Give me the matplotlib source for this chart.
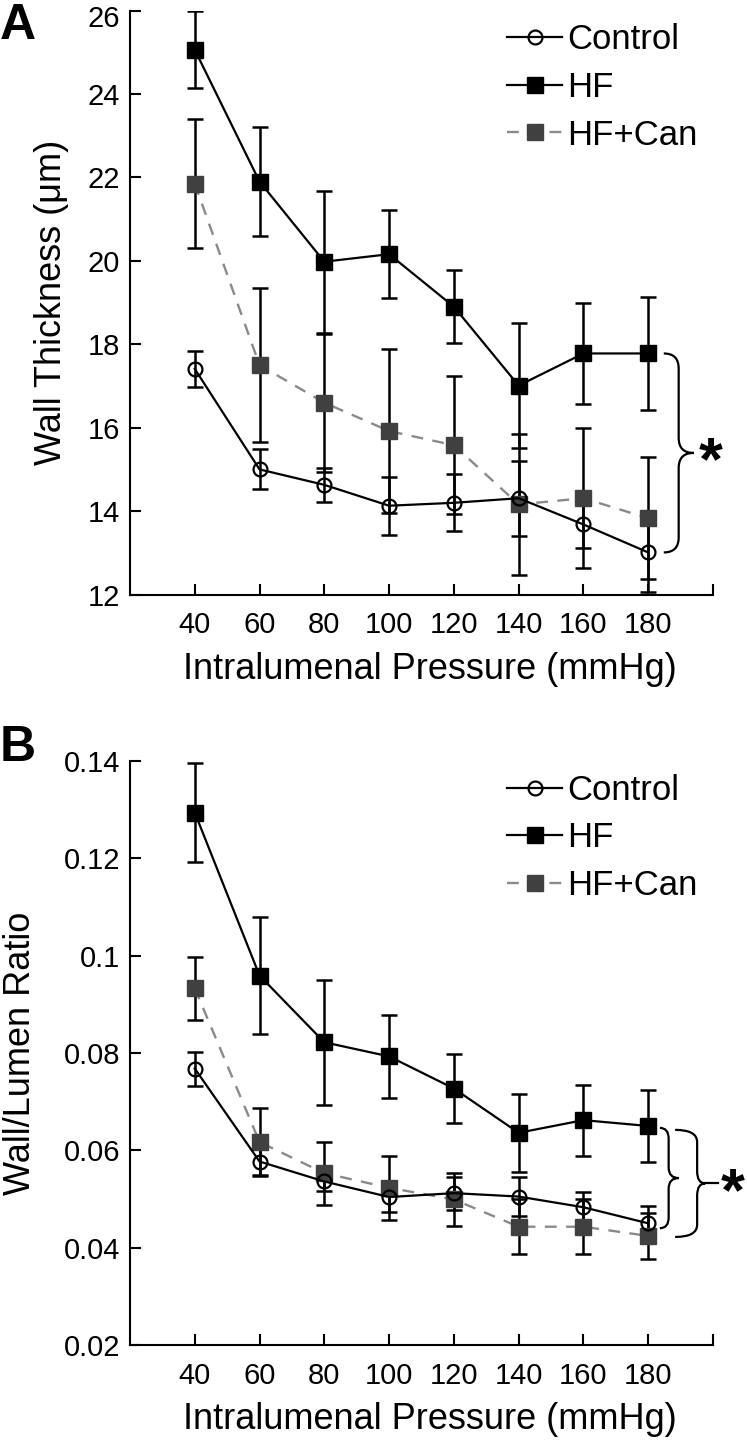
import matplotlib
matplotlib.use("Agg")
import matplotlib.pyplot as plt
import numpy as np
from matplotlib.path import Path
from matplotlib.patches import PathPatch
from matplotlib.ticker import FormatStrFormatter
from matplotlib.transforms import ScaledTranslation

plt.rcParams['font.family'] = ['Liberation Sans', 'DejaVu Sans']

pressure = [40, 60, 80, 100, 120, 140, 160, 180]
groups = ["Control", "HF", "HF+Can"]

# panel A: wall thickness (um), mean and SE
ctrl_wt = [17.41, 15.0, 14.63, 14.13, 14.2, 14.31, 13.68, 13.01]
ctrl_wt_err = [0.43, 0.48, 0.4, 0.7, 0.68, 0.9, 0.57, 0.94]
hf_wt = [25.06, 21.9, 19.98, 20.16, 18.9, 17.01, 17.78, 17.78]
hf_wt_err = [0.92, 1.3, 1.7, 1.05, 0.88, 1.5, 1.2, 1.36]
can_wt = [21.85, 17.5, 16.6, 15.92, 15.58, 14.16, 14.31, 13.83]
can_wt_err = [1.55, 1.85, 1.65, 1.96, 1.65, 1.7, 1.68, 1.46]

# panel B: wall/lumen ratio
ctrl_wl = [0.0768, 0.0577, 0.0536, 0.0504, 0.0512, 0.0505, 0.0483, 0.045]
ctrl_wl_err = [0.0035, 0.0027, 0.002, 0.003, 0.0034, 0.004, 0.0032, 0.0035]
hf_wl = [0.1294, 0.0959, 0.0822, 0.0793, 0.0727, 0.0636, 0.0662, 0.0650]
hf_wl_err = [0.0102, 0.012, 0.0128, 0.0086, 0.007, 0.008, 0.0073, 0.0073]
can_wl = [0.0933, 0.0617, 0.0553, 0.0523, 0.0499, 0.0443, 0.0443, 0.0424]
can_wl_err = [0.0065, 0.007, 0.0065, 0.0066, 0.0055, 0.0056, 0.0056, 0.0047]

x_ticks = [40, 60, 80, 100, 120, 140, 160, 180, 200]
x_ticklabels = ["40", "60", "80", "100", "120", "140", "160", "180", ""]


def brace(ax, x0, xv, xt, y_top, y_bot, r):
  ym = (y_top + y_bot) / 2
  verts = [(x0, y_top), (xv, y_top), (xv, y_top - r),
           (xv, ym + r), (xv, ym), (xt, ym),
           (xv, ym), (xv, ym - r),
           (xv, y_bot + r), (xv, y_bot), (x0, y_bot)]
  codes = [Path.MOVETO, Path.CURVE3, Path.CURVE3, Path.LINETO, Path.CURVE3, Path.CURVE3,
           Path.CURVE3, Path.CURVE3, Path.LINETO, Path.CURVE3, Path.CURVE3]
  ax.add_patch(PathPatch(Path(verts, codes), fill=False, lw=1.6, ec='black', clip_on=False))
  return ym


def panel(ax, ctrl, ctrl_err, hf, hf_err, can, can_err):
  ekw = dict(fmt='none', ecolor='black', elinewidth=1.8, capsize=5.5, capthick=1.8, zorder=2)
  ax.errorbar(pressure, can, yerr=can_err, **ekw)
  ax.errorbar(pressure, hf, yerr=hf_err, **ekw)
  ax.errorbar(pressure, ctrl, yerr=ctrl_err, **ekw)
  ax.plot(pressure, can, color='#8a8a8a', lw=1.7, dashes=(5, 4), marker='s', ms=11,
          mfc='#404040', mec='#404040', label=groups[2], zorder=3)
  ax.plot(pressure, hf, color='black', lw=1.6, marker='s', ms=11.5,
          mfc='black', mec='black', label=groups[1], zorder=4)
  ax.plot(pressure, ctrl, color='black', lw=1.6, marker='o', ms=10,
          mfc='none', mec='black', mew=1.6, label=groups[0], zorder=5)
  h, l = ax.get_legend_handles_labels()
  order = [2, 1, 0]
  ax.legend([h[i] for i in order], [l[i] for i in order], loc='upper left',
            bbox_to_anchor=(0.647, 0.978), frameon=False, fontsize=25,
            borderpad=0, borderaxespad=0, handlelength=1.58, handletextpad=0.15,
            labelspacing=0.42, numpoints=1)
  ax.set_xlim(20, 200)
  ax.set_xticks(x_ticks)
  ax.set_xticklabels(x_ticklabels)
  for s in ['top', 'right']:
    ax.spines[s].set_visible(False)
  for s in ['left', 'bottom']:
    ax.spines[s].set_linewidth(1.5)
  ax.tick_params(direction='in', length=8, width=1.5, labelsize=21)
  ax.tick_params(axis='x', pad=12)
  ax.tick_params(axis='y', pad=7)
  ax.set_xlabel("Intralumenal Pressure (mmHg)", fontsize=26)
  ax.xaxis.set_label_coords(0.515, -0.098)


fig = plt.figure(figsize=(7.47, 14.47), dpi=100)
axA = fig.add_axes([0.174, 0.5891, 0.7805, 0.4036])
axB = fig.add_axes([0.174, 0.0705, 0.7805, 0.4036])

panel(axA, ctrl_wt, ctrl_wt_err, hf_wt, hf_wt_err, can_wt, can_wt_err)
axA.set_ylim(12, 26)
axA.set_yticks(np.arange(12, 27, 2))
axA.set_ylabel("Wall Thickness (\u03bcm)", fontsize=26)
axA.yaxis.set_label_coords(-0.105, 0.5)
# keep the top tick label inside the figure
top_lab = axA.get_yticklabels()[-1]
top_lab.set_transform(top_lab.get_transform() + ScaledTranslation(0, -4 / 72, fig.dpi_scale_trans))
ym = brace(axA, 184.8, 189.4, 194.0, hf_wt[-1], ctrl_wt[-1], 0.36)
axA.annotate('*', xy=(199.3, ym), xytext=(0, -19), textcoords='offset points',
             ha='center', va='baseline', fontsize=44, fontweight='bold', annotation_clip=False)

panel(axB, ctrl_wl, ctrl_wl_err, hf_wl, hf_wl_err, can_wl, can_wl_err)
axB.set_ylim(0.02, 0.14)
axB.set_yticks(np.arange(0.02, 0.141, 0.02))
axB.yaxis.set_major_formatter(FormatStrFormatter('%g'))
axB.set_ylabel("Wall/Lumen Ratio", fontsize=26)
axB.yaxis.set_label_coords(-0.158, 0.5)
brace(axB, 183.6, 186.3, 189.4, hf_wl[-1] - 0.0004, ctrl_wl[-1] - 0.001, 0.0022)
ym = brace(axB, 188.3, 195.1, 197.6, hf_wl[-1] - 0.0008, can_wl[-1] - 0.0002, 0.0025)
axB.plot([197.6, 201.4], [ym, ym], color='black', lw=1.6, clip_on=False)
axB.annotate('*', xy=(206.2, ym), xytext=(0, -19), textcoords='offset points',
             ha='center', va='baseline', fontsize=44, fontweight='bold', annotation_clip=False)

fig.text(0.0, 1 - 3 / 1447, "A", fontsize=36, fontweight='bold', ha='left', va='top')
fig.text(0.0, 1 - 725 / 1447, "B", fontsize=36, fontweight='bold', ha='left', va='top')

fig.savefig("out.png", dpi=100)
